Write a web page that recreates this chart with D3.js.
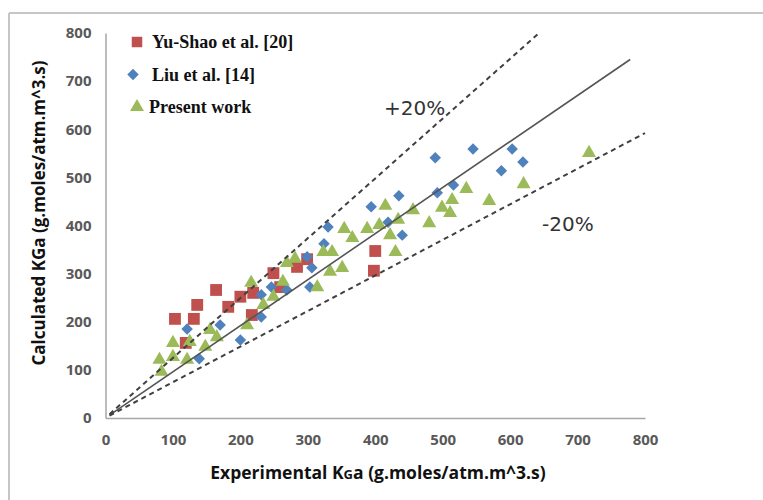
<!DOCTYPE html>
<meta charset="utf-8">
<script src="https://d3js.org/d3.v7.min.js"></script>
<style>
  body { margin: 0; background: #fff; }
</style>
<body>
<div id="chart"></div>
<script>
  // data: [experimental, calculated]
  const yuShao = [[103, 206], [131, 206], [136, 235], [164, 266], [182, 231], [200, 252],
    [217, 214], [219, 260], [249, 301], [119, 156], [259, 272], [284, 314], [299, 330],
    [400, 347], [398, 306]];
  const liu = [[121, 185], [170, 193], [200, 162], [139, 123], [231, 256], [231, 210],
    [246, 272], [269, 266], [303, 272], [299, 335], [306, 312], [324, 362], [330, 397],
    [394, 439], [419, 407], [435, 462], [440, 380], [492, 468], [516, 484], [489, 541],
    [545, 559], [603, 559], [619, 532], [587, 514]];
  const present = [[80, 121], [83, 96], [100, 156], [100, 127], [121, 121], [125, 158],
    [148, 148], [155, 183], [165, 168], [210, 193], [216, 281], [234, 235], [249, 252],
    [263, 283], [269, 322], [281, 331], [314, 272], [323, 345], [336, 345], [333, 304],
    [351, 312], [354, 393], [366, 374], [388, 393], [406, 401], [415, 441], [434, 412],
    [422, 380], [430, 345], [456, 432], [480, 405], [499, 437], [511, 426], [514, 453],
    [535, 476], [717, 551], [620, 486], [569, 451]];

  // reference lines (end points in data units)
  const parityLine = [[6, 6], [778, 745]];
  const plusLine = [[6, 8], [643, 800]];
  const minusLine = [[6, 5], [800, 592]];

  const ticks = [0, 100, 200, 300, 400, 500, 600, 700, 800];
  const legendLabels = ["Yu-Shao et al. [20]", "Liu et al. [14]", "Present work"];
  const bandLabels = ["+20%", "-20%"];

  const width = 763, height = 500;

  const svg = d3.select("#chart")
    .append("svg")
    .attr("width", width)
    .attr("height", height);

  // outer chart frame
  svg.append("line").attr("x1", 9).attr("x2", width).attr("y1", 13).attr("y2", 13)
    .style("stroke", "#c6c6c6").style("stroke-width", 2);
  svg.append("line").attr("x1", 9).attr("x2", 9).attr("y1", 13).attr("y2", height)
    .style("stroke", "#c6c6c6").style("stroke-width", 2);

  const x = d3.scaleLinear().domain([0, 800]).range([105.5, 645]);
  const y = d3.scaleLinear().domain([0, 800]).range([418, 33]);

  // axes
  const xAxis = svg.append("g")
    .attr("transform", `translate(0, ${y(0)})`)
    .call(d3.axisBottom(x).tickValues(ticks).tickSize(0).tickSizeOuter(0).tickPadding(16));
  const yAxis = svg.append("g")
    .attr("transform", `translate(${x(0)}, 0)`)
    .call(d3.axisLeft(y).tickValues(ticks).tickSize(0).tickSizeOuter(0).tickPadding(14));

  [xAxis, yAxis].forEach(function (g) {
    g.select(".domain").style("stroke", "#a6a6a6").style("stroke-width", 1.5);
    g.selectAll("text")
      .style("font-family", "'Open Sans', sans-serif")
      .style("font-weight", "bold")
      .style("font-size", "15px")
      .style("fill", "#595959");
  });

  // markers
  const squareSym = d3.symbol().type(d3.symbolSquare).size(140);
  const diamondSym = d3.symbol().type(d3.symbolSquare).size(66);
  const triangleSym = d3.symbol().type(d3.symbolTriangle).size(85);

  svg.append("g").selectAll("path")
    .data(yuShao)
    .join("path")
    .attr("d", squareSym)
    .attr("transform", d => `translate(${x(d[0])}, ${y(d[1])})`)
    .style("fill", "#c0504d");

  svg.append("g").selectAll("path")
    .data(liu)
    .join("path")
    .attr("d", diamondSym)
    .attr("transform", d => `translate(${x(d[0])}, ${y(d[1])}) rotate(45)`)
    .style("fill", "#4f81bd");

  svg.append("g").selectAll("path")
    .data(present)
    .join("path")
    .attr("d", triangleSym)
    .attr("transform", d => `translate(${x(d[0])}, ${y(d[1])})`)
    .style("fill", "#9bbb59");

  // 1:1 and +/-20% lines
  const line = d3.line().x(d => x(d[0])).y(d => y(d[1]));

  svg.append("path").datum(parityLine).attr("d", line)
    .style("fill", "none").style("stroke", "#555").style("stroke-width", 1.6);
  [plusLine, minusLine].forEach(function (l) {
    svg.append("path").datum(l).attr("d", line)
      .style("fill", "none").style("stroke", "#404040")
      .style("stroke-width", 2).style("stroke-dasharray", "5,4");
  });

  svg.append("text").attr("x", 384).attr("y", 115).text(bandLabels[0])
    .style("font-family", "'DejaVu Sans', sans-serif").style("font-size", "20px").style("fill", "#333");
  svg.append("text").attr("x", 542).attr("y", 231).text(bandLabels[1])
    .style("font-family", "'DejaVu Sans', sans-serif").style("font-size", "20px").style("fill", "#333");

  // legend
  const legendSyms = [squareSym, diamondSym, triangleSym];
  const legendColors = ["#c0504d", "#4f81bd", "#9bbb59"];
  const legend = svg.append("g");
  legendLabels.forEach(function (lab, i) {
    const ly = 42 + i * 32.5;
    legend.append("path")
      .attr("d", i == 0 ? d3.symbol().type(d3.symbolSquare).size(110)() : legendSyms[i]())
      .attr("transform", `translate(${i == 1 ? 133 : 137}, ${ly})` + (i == 1 ? " rotate(45)" : ""))
      .style("fill", legendColors[i]);
    legend.append("text")
      .attr("x", i == 2 ? 149 : 152)
      .attr("y", ly + 6)
      .text(lab)
      .style("font-family", "'Liberation Serif', serif")
      .style("font-weight", "bold")
      .style("font-size", "18px")
      .style("fill", "#111");
  });

  // axis titles
  const xTitle = svg.append("text")
    .attr("x", 378).attr("y", 479)
    .attr("text-anchor", "middle")
    .style("font-family", "'Open Sans', sans-serif")
    .style("font-weight", "bold")
    .style("font-size", "17.5px")
    .style("fill", "#111");
  xTitle.append("tspan").text("Experimental K");
  xTitle.append("tspan").style("font-size", "13px").text("G");
  xTitle.append("tspan").text("a (g.moles/atm.m^3.s)");

  svg.append("text")
    .attr("transform", "translate(45, 213) rotate(-90)")
    .attr("text-anchor", "middle")
    .text("Calculated KGa (g.moles/atm.m^3.s)")
    .style("font-family", "'Open Sans', sans-serif")
    .style("font-weight", "bold")
    .style("font-size", "17px")
    .style("fill", "#111");
</script>
</body>
